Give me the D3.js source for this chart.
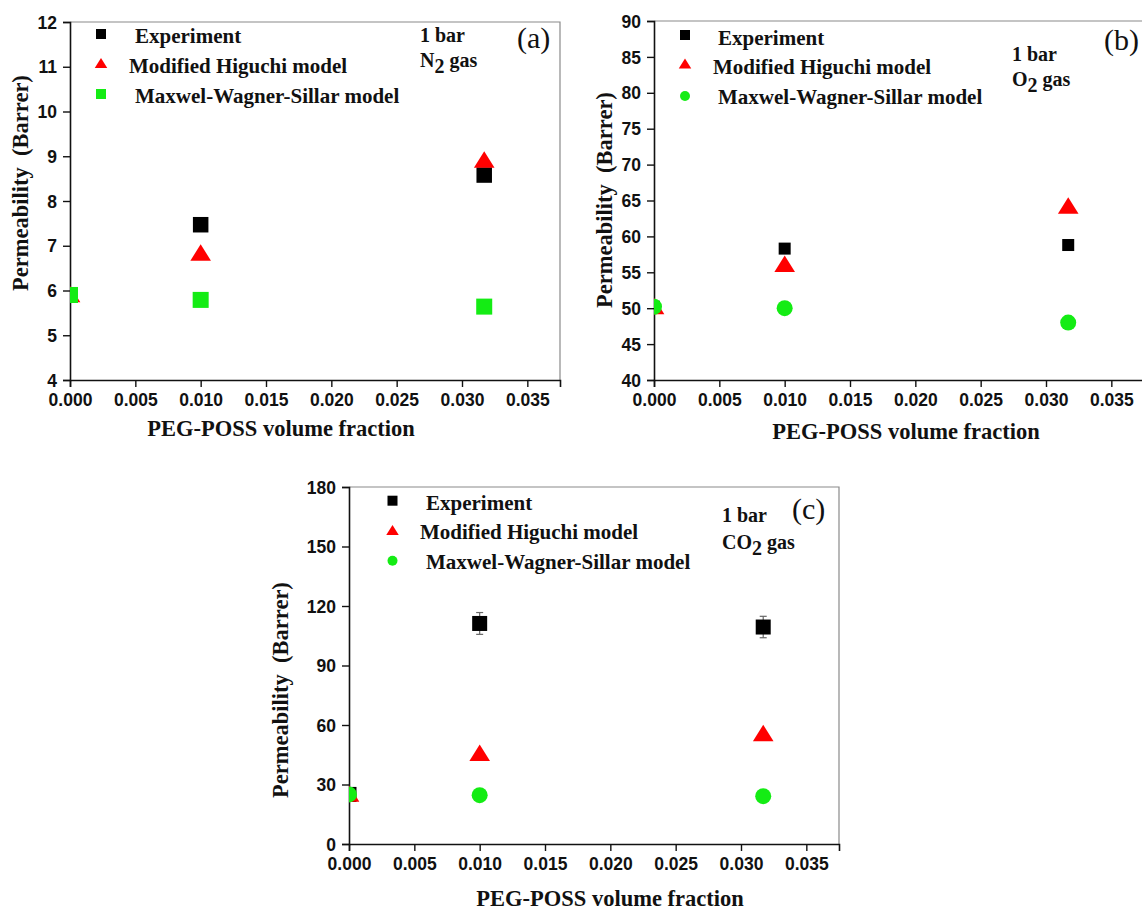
<!DOCTYPE html>
<html>
<head>
<meta charset="utf-8">
<script src="https://cdn.jsdelivr.net/npm/d3@7"></script>
<style>
  html, body { margin: 0; padding: 0; background: #fff; }
  svg { display: block; }
  .tick-label { font-family: "Liberation Sans", Arial, sans-serif; font-weight: bold; font-size: 17.5px; fill: #111; }
  .title { font-family: "Liberation Serif", "Times New Roman", serif; font-weight: bold; font-size: 22.5px; fill: #111; }
  .legend { font-family: "Liberation Serif", "Times New Roman", serif; font-weight: bold; font-size: 21px; fill: #111; }
  .cond { font-family: "Liberation Serif", "Times New Roman", serif; font-weight: bold; font-size: 20px; fill: #111; }
  .letter { font-family: "Liberation Serif", "Times New Roman", serif; font-size: 30px; fill: #111; }
</style>
</head>
<body>
<svg id="chart" width="1142" height="909"></svg>
<script>
// PEG-POSS volume fractions shared by all three gases
const volumeFraction = [0, 0.01, 0.0317];
const xTicks = [0, 0.005, 0.01, 0.015, 0.02, 0.025, 0.03, 0.035];

// N2 permeability (Barrer)
const n2Experiment = [5.9, 7.47, 8.58];
const n2Higuchi = [5.92, 6.85, 8.93];
const n2MWS = [5.9, 5.79, 5.64];
const n2Ticks = [4, 5, 6, 7, 8, 9, 10, 11, 12];

// O2 permeability (Barrer)
const o2Experiment = [50.2, 58.3, 58.8];
const o2Higuchi = [50.3, 56.2, 64.3];
const o2MWS = [50.2, 50.0, 48.0];
const o2Ticks = [40, 45, 50, 55, 60, 65, 70, 75, 80, 85, 90];

// CO2 permeability (Barrer) with experimental error
const co2Experiment = [25, 111.2, 109.4];
const co2Error = [0, 5.5, 5.4];
const co2Higuchi = [25.5, 46, 56];
const co2MWS = [25, 24.6, 24.1];
const co2Ticks = [0, 30, 60, 90, 120, 150, 180];

const legendLabels = ["Experiment", "Modified Higuchi model", "Maxwel-Wagner-Sillar model"];

const GREEN = "#14ec14";
const RED = "#ff0000";

const svg = d3.select("#chart");

// triangle whose bounding box is centred on the point
function trianglePath(cx, cy, w, h) {
  return `M${cx - w / 2},${cy + h / 2}L${cx + w / 2},${cy + h / 2}L${cx},${cy - h / 2}Z`;
}

function drawMarker(g, kind, color, cx, cy, size) {
  if (kind === "square") {
    g.append("rect").attr("x", cx - size / 2).attr("y", cy - size / 2)
      .attr("width", size).attr("height", size).attr("fill", color);
  } else if (kind === "circle") {
    g.append("circle").attr("cx", cx).attr("cy", cy).attr("r", size / 2).attr("fill", color);
  } else {
    g.append("path").attr("d", trianglePath(cx, cy, size * 1.25, size)).attr("fill", color);
  }
}

function panel(cfg) {
  const g = svg.append("g");
  const x = d3.scaleLinear().domain([0, 0.0375]).range([cfg.left, cfg.right]);
  const y = d3.scaleLinear().domain(cfg.yDomain).range([cfg.bottom, cfg.top]);

  // frame: light top/right border
  g.append("path")
    .attr("d", `M${cfg.left},${cfg.top}H${cfg.right}V${cfg.bottom}`)
    .attr("fill", "none").attr("stroke", "#8a8a8a").attr("stroke-width", 1.2);

  // axes
  const yAxis = d3.axisLeft(y).tickValues(cfg.yTicks).tickSize(7).tickPadding(6).tickFormat(d3.format("d"));
  const xAxis = d3.axisBottom(x).tickValues(xTicks).tickSize(7).tickPadding(7).tickFormat(d3.format(".3f"));
  const ya = g.append("g").attr("transform", `translate(${cfg.left},0)`).call(yAxis);
  const xa = g.append("g").attr("transform", `translate(0,${cfg.bottom})`).call(xAxis);
  [ya, xa].forEach(a => {
    a.select(".domain").attr("stroke", "#111").attr("stroke-width", 1.6);
    a.selectAll(".tick line").attr("stroke", "#111").attr("stroke-width", 1.4);
    a.selectAll(".tick text").attr("class", "tick-label").attr("font-size", null).attr("font-family", null);
  });
  ya.selectAll(".tick text").attr("dy", "0.35em");

  // plotted points, clipped to the frame
  const clipId = "clip-" + cfg.id;
  svg.append("clipPath").attr("id", clipId).append("rect")
    .attr("x", cfg.left).attr("y", cfg.top)
    .attr("width", cfg.right - cfg.left).attr("height", cfg.bottom - cfg.top);
  const pts = g.append("g").attr("clip-path", `url(#${clipId})`);

  if (cfg.error) {
    volumeFraction.forEach((v, i) => {
      const e = cfg.error[i];
      if (!e) return;
      const cx = x(v), y0 = y(cfg.experiment[i] - e), y1 = y(cfg.experiment[i] + e);
      const eb = pts.append("g").attr("stroke", "#666").attr("stroke-width", 1.2);
      eb.append("line").attr("x1", cx).attr("x2", cx).attr("y1", y0).attr("y2", y1);
      eb.append("line").attr("x1", cx - 3.5).attr("x2", cx + 3.5).attr("y1", y0).attr("y2", y0);
      eb.append("line").attr("x1", cx - 3.5).attr("x2", cx + 3.5).attr("y1", y1).attr("y2", y1);
    });
  }
  volumeFraction.forEach((v, i) => drawMarker(pts, "square", "#000", x(v), y(cfg.experiment[i]), cfg.expSize));
  volumeFraction.forEach((v, i) => drawMarker(pts, "triangle", RED, x(v), y(cfg.higuchi[i]), 16.5));
  volumeFraction.forEach((v, i) => drawMarker(pts, cfg.mwsShape, GREEN, x(v), y(cfg.mws[i]), 16));

  // legend
  const kinds = [["square", "#000"], ["triangle", RED], [cfg.mwsShape, GREEN]];
  kinds.forEach((k, i) => {
    drawMarker(g, k[0], k[1], cfg.legend.mx, cfg.legend.my[i], 10);
    g.append("text").attr("class", "legend")
      .attr("x", cfg.legend.tx[i]).attr("y", cfg.legend.ty[i]).text(legendLabels[i]);
  });

  // conditions
  g.append("text").attr("class", "cond").attr("x", cfg.cond.x).attr("y", cfg.cond.y1).text("1 bar");
  const gas = g.append("text").attr("class", "cond").attr("x", cfg.cond.x).attr("y", cfg.cond.y2);
  gas.append("tspan").text(cfg.gas);
  gas.append("tspan").attr("dy", 6).text("2");
  gas.append("tspan").attr("dy", -6).text(" gas");

  // panel letter
  g.append("text").attr("class", "letter").attr("x", cfg.letter.x).attr("y", cfg.letter.y).text(cfg.letter.t);

  // axis titles
  g.append("text").attr("class", "title").attr("text-anchor", "middle")
    .attr("dominant-baseline", "central")
    .attr("transform", `translate(${cfg.yTitle[0]},${cfg.yTitle[1]}) rotate(-90)`)
    .attr("xml:space", "preserve")
    .text("Permeability  (Barrer)");
  g.append("text").attr("class", "title").attr("text-anchor", "middle")
    .attr("dominant-baseline", "central")
    .attr("x", cfg.xTitle[0]).attr("y", cfg.xTitle[1])
    .text("PEG-POSS volume fraction");
}

panel({
  id: "n2", left: 70, right: 560, top: 22, bottom: 380,
  yDomain: [4, 12], yTicks: n2Ticks,
  experiment: n2Experiment, higuchi: n2Higuchi, mws: n2MWS, mwsShape: "square", expSize: 15.5,
  legend: { mx: 101, my: [34, 63, 94], tx: [135, 129, 135], ty: [43, 72.5, 102.5] },
  cond: { x: 420, y1: 42, y2: 67 }, gas: "N",
  letter: { x: 517, y: 48, t: "(a)" },
  yTitle: [20, 183], xTitle: [281, 428]
});

panel({
  id: "o2", left: 654, right: 1144, top: 21, bottom: 380,
  yDomain: [40, 90], yTicks: o2Ticks,
  experiment: o2Experiment, higuchi: o2Higuchi, mws: o2MWS, mwsShape: "circle", expSize: 12,
  legend: { mx: 685, my: [35, 63.5, 96], tx: [718, 713, 718], ty: [44.5, 73.5, 104] },
  cond: { x: 1012, y1: 61, y2: 86 }, gas: "O",
  letter: { x: 1104, y: 50, t: "(b)" },
  yTitle: [604, 200], xTitle: [906, 431]
});

panel({
  id: "co2", left: 349, right: 839, top: 487, bottom: 844,
  yDomain: [0, 180], yTicks: co2Ticks, error: co2Error,
  experiment: co2Experiment, higuchi: co2Higuchi, mws: co2MWS, mwsShape: "circle", expSize: 15,
  legend: { mx: 392.5, my: [500.7, 530, 560.7], tx: [426, 420, 426], ty: [509.5, 539, 569] },
  cond: { x: 722, y1: 522, y2: 549 }, gas: "CO",
  letter: { x: 792, y: 519, t: "(c)" },
  yTitle: [280.5, 690], xTitle: [610, 898]
});
</script>
</body>
</html>
